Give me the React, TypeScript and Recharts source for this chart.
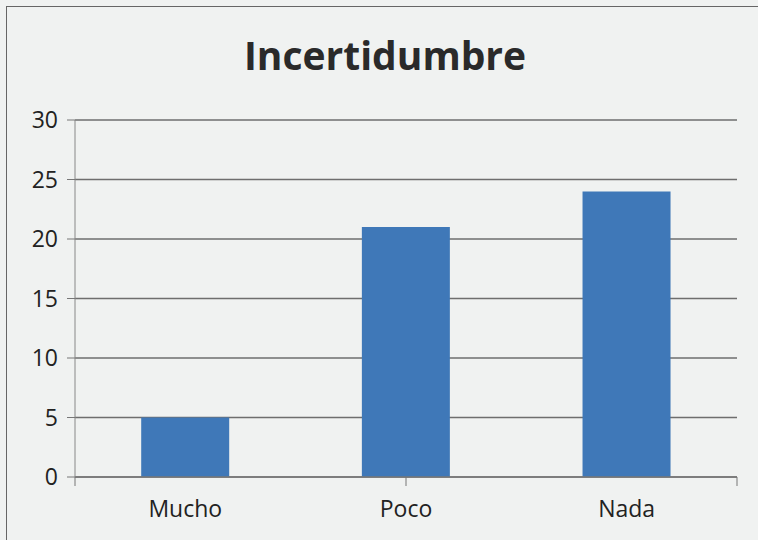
import React from 'react';
import { BarChart, Bar, XAxis, YAxis, CartesianGrid } from 'recharts';

const categories = ['Mucho', 'Poco', 'Nada'];
const values = [5, 21, 24];
const yTicks = [0, 5, 10, 15, 20, 25, 30];
const edgeTicks = [0, 1, 2, 3];

const data = categories.map((name, i) => ({ name, value: values[i] }));

const FONT = '"Open Sans", Calibri, sans-serif';

const CategoryTick = (props: any) => {
  const { x, payload } = props;
  return (
    <text x={x} y={517} textAnchor="middle" fontFamily={FONT} fontSize={23} fill="#222">
      {payload.value}
    </text>
  );
};

const NoLabel = () => <g />;

export default function App() {
  return (
    <div style={{ position: 'absolute', left: 0, top: 0, width: 758, height: 540, background: '#f0f2f1', overflow: 'hidden' }}>
      {/* scanned frame */}
      <div style={{ position: 'absolute', left: 6, top: 6, width: 800, height: 600, borderLeft: '1px solid #666', borderTop: '1px solid #666' }} />
      <div
        style={{
          position: 'absolute', left: 0, width: 770, top: 28, textAlign: 'center',
          fontFamily: FONT, fontWeight: 700, fontSize: 39, color: '#2a2a2a', lineHeight: '54px',
        }}
      >
        Incertidumbre
      </div>
      <div style={{ position: 'absolute', left: 0, top: 0 }}>
        <BarChart width={758} height={540} data={data} margin={{ top: 120, right: 21, bottom: 23, left: 15 }} barCategoryGap="30%">
          <CartesianGrid horizontal vertical={false} stroke="#6e6e6e" strokeWidth={1.3} yAxisId="y" xAxisId="b" />
          <XAxis
            xAxisId="a"
            type="number"
            domain={[0, 3]}
            ticks={edgeTicks}
            tick={<NoLabel />}
            tickSize={9}
            axisLine={{ stroke: '#777', strokeWidth: 1.3 }}
            tickLine={{ stroke: '#777' }}
            height={10}
          />
          <XAxis xAxisId="b" dataKey="name" tick={<CategoryTick />} tickLine={false} axisLine={false} height={30} />
          <YAxis
            yAxisId="y"
            domain={[0, 30]}
            ticks={yTicks}
            width={60}
            tickSize={8}
            tickMargin={9}
            axisLine={{ stroke: '#888' }}
            tickLine={{ stroke: '#777' }}
            tick={{ fontFamily: FONT, fontSize: 23, fill: '#222' }}
          />
          <Bar dataKey="value" xAxisId="b" yAxisId="y" fill="#3f78b8" isAnimationActive={false} />
        </BarChart>
      </div>
    </div>
  );
}
